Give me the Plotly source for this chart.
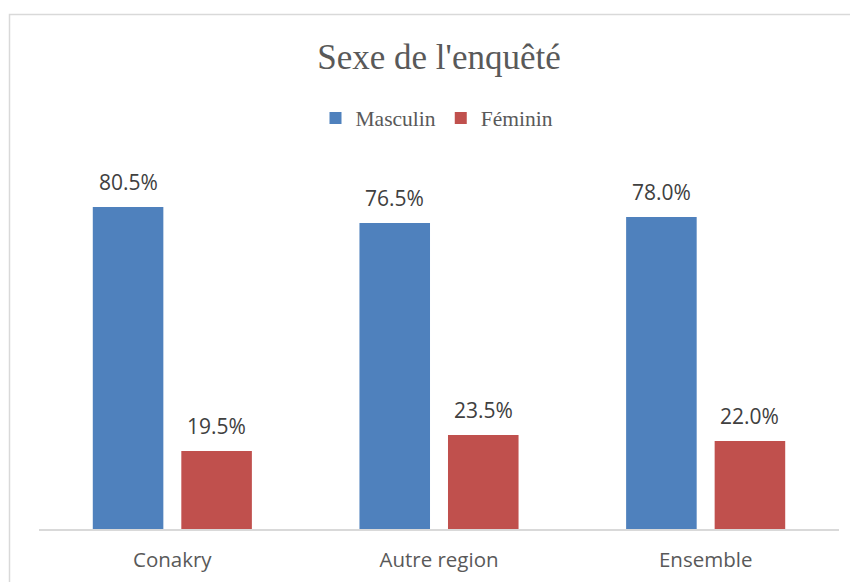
import plotly.graph_objects as go

categories = ["Conakry", "Autre region", "Ensemble"]
masculin = [0.805, 0.765, 0.780]
feminin = [0.195, 0.235, 0.220]
series_names = ["Masculin", "Féminin"]
colors = ["#4F81BD", "#C0504D"]

OFF = 8  # browser body margin
W, H = 858 - OFF, 582 - OFF
L, R, T, B = 39 - OFF, 19, 129 - OFF, 53
pw, ph = W - L - R, H - T - B

fig = go.Figure()
xshifts = [-44.25, 44.25]
for name, vals, col, xs in zip(series_names, [masculin, feminin], colors, xshifts):
    fig.add_trace(go.Bar(
        name=name, x=categories, y=vals, marker=dict(color=col, line=dict(width=0)),
        hoverinfo="x+y",
    ))
    for c, v in zip(categories, vals):
        fig.add_annotation(x=c, y=v, xref="x", yref="y", text=f"{v*100:.1f}%",
                           showarrow=False, xshift=xs, yshift=25.5, yanchor="middle",
                           font=dict(family="Open Sans", size=21, color="#404040"))

# chart border
fig.add_shape(type="rect", xref="paper", yref="paper",
              x0=(1.5 - L) / pw, x1=(W + 3 - L) / pw,
              y0=-(B + 3) / ph, y1=1 + (T - 6.5) / ph,
              line=dict(color="#D9D9D9", width=1.5), fillcolor="rgba(0,0,0,0)", layer="below")

fig.update_layout(
    width=W, height=H,
    margin=dict(l=L, r=R, t=T, b=B, autoexpand=False),
    paper_bgcolor="white", plot_bgcolor="white",
    barmode="group", bargap=0.336, bargroupgap=0.203,
    title=dict(text="Sexe de l'enquêté", x=431 / W, xanchor="center", xref="container",
               y=1 - 49 / H, yanchor="middle",
               font=dict(family="Liberation Serif", size=35, color="#595959")),
    legend=dict(orientation="h", x=429 / W, xanchor="center", y=1 - 110 / H, yanchor="middle",
                xref="container", yref="container",
                font=dict(family="Liberation Serif", size=21.5, color="#595959"),
                itemwidth=30, traceorder="normal"),
    xaxis=dict(showline=True, linecolor="#D9D9D9", linewidth=1.5, ticks="",
               tickfont=dict(family="Open Sans", size=20.5, color="#595959"), ticklabelstandoff=12),
    yaxis=dict(range=[0, 1], visible=False, showgrid=False),
    showlegend=True,
)

fig.write_html("out.html")
